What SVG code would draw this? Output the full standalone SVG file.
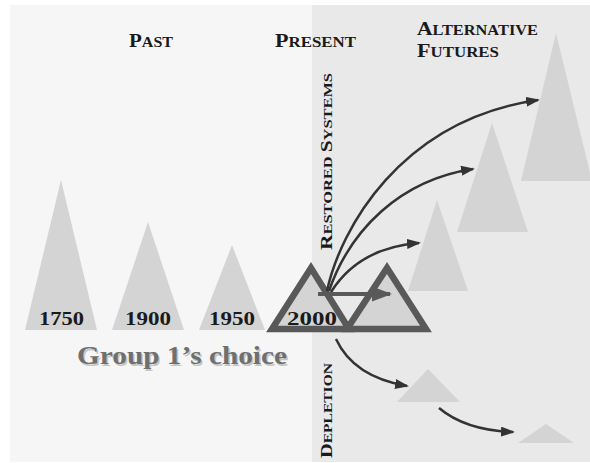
<svg xmlns="http://www.w3.org/2000/svg" width="590" height="463" viewBox="0 0 590 463">
  <style>
    .hd { font-family: "Liberation Serif", "DejaVu Serif", serif; font-weight: bold; fill: #1a1a1a; }
    .yr { font-family: "Liberation Serif", "DejaVu Serif", serif; font-weight: bold; fill: #1a1a1a; font-size: 18px; }
    .tri { fill: #d4d4d4; }
    .now { fill: #d4d4d4; stroke: #595959; stroke-width: 6.5; stroke-linejoin: miter; }
    .arc { fill: none; stroke: #333333; stroke-width: 2.5; }
  </style>
  <defs>
    <marker id="head" viewBox="0 0 14 10" refX="12" refY="5" markerUnits="userSpaceOnUse" markerWidth="14" markerHeight="10" orient="auto">
      <path d="M0,0 L14,5 L0,10 z" fill="#333333"/>
    </marker>
    <marker id="headBig" viewBox="0 0 20 15" refX="18" refY="7.5" markerUnits="userSpaceOnUse" markerWidth="20" markerHeight="15" orient="auto">
      <path d="M0,0 L20,7.5 L0,15 z" fill="#595959"/>
    </marker>
  </defs>

  <!-- backdrop panels -->
  <rect x="0" y="0" width="590" height="463" fill="#ffffff"/>
  <rect x="10" y="5" width="302" height="457" fill="#f6f6f6"/>
  <rect x="312" y="5" width="278" height="457" fill="#e9e9e9"/>

  <!-- column headings -->
  <g id="heading-past">
    <text class="hd" x="129" y="47" textLength="44" lengthAdjust="spacingAndGlyphs"><tspan font-size="19">P</tspan><tspan font-size="14.5">AST</tspan></text>
  </g>
  <g id="heading-present">
    <text class="hd" x="275" y="47" textLength="81" lengthAdjust="spacingAndGlyphs"><tspan font-size="19">P</tspan><tspan font-size="14.5">RESENT</tspan></text>
  </g>
  <g id="heading-futures">
    <text class="hd" x="417" y="35" textLength="121" lengthAdjust="spacingAndGlyphs"><tspan font-size="19">A</tspan><tspan font-size="14.5">LTERNATIVE</tspan></text>
    <text class="hd" x="417" y="57" textLength="82" lengthAdjust="spacingAndGlyphs"><tspan font-size="19">F</tspan><tspan font-size="14.5">UTURES</tspan></text>
  </g>

  <!-- scenario labels, vertical -->
  <g id="label-restored">
    <text class="hd" transform="translate(332,250) rotate(-90)" x="0" y="0" textLength="177" lengthAdjust="spacingAndGlyphs"><tspan font-size="17">R</tspan><tspan font-size="13">ESTORED </tspan><tspan font-size="17">S</tspan><tspan font-size="13">YSTEMS</tspan></text>
  </g>
  <g id="label-depletion">
    <text class="hd" transform="translate(332,458) rotate(-90)" x="0" y="0" textLength="95" lengthAdjust="spacingAndGlyphs"><tspan font-size="17">D</tspan><tspan font-size="13">EPLETION</tspan></text>
  </g>

  <!-- past states -->
  <g id="y1750">
    <polygon class="tri" points="61,180 25,330 97,330"/>
    <text class="yr" x="39" y="325" textLength="45" lengthAdjust="spacingAndGlyphs">1750</text>
  </g>
  <g id="y1900">
    <polygon class="tri" points="148,222 112,330 184,330"/>
    <text class="yr" x="125" y="325" textLength="46" lengthAdjust="spacingAndGlyphs">1900</text>
  </g>
  <g id="y1950">
    <polygon class="tri" points="232,245 199,330 265,330"/>
    <text class="yr" x="209" y="325" textLength="46" lengthAdjust="spacingAndGlyphs">1950</text>
  </g>

  <!-- present state and the chosen step -->
  <g id="y2000">
    <polygon class="now" points="272,329 311,268 349,329"/>
    <text class="yr" x="287" y="325" textLength="50" lengthAdjust="spacingAndGlyphs">2000</text>
  </g>
  <g id="choice">
    <polygon class="now" points="347,329 387,268 426,329"/>
  </g>

  <!-- future states -->
  <g id="future-high">
    <polygon class="tri" points="556,33 521,181 592,181"/>
  </g>
  <g id="future-mid">
    <polygon class="tri" points="492,123 457,232 528,232"/>
  </g>
  <g id="future-low">
    <polygon class="tri" points="437,200 408,291 468,291"/>
  </g>
  <g id="depleted-1">
    <polygon class="tri" points="428,369 397,402 460,402"/>
  </g>
  <g id="depleted-2">
    <polygon class="tri" points="546,424 518,443 574,443"/>
  </g>

  <!-- caption -->
  <g id="caption">
    <text x="78.5" y="365.5" font-family="'Liberation Serif', 'DejaVu Serif', serif" font-weight="bold" font-size="25" fill="#c4c4c4" textLength="210" lengthAdjust="spacingAndGlyphs">Group 1’s choice</text>
    <text x="77" y="364" font-family="'Liberation Serif', 'DejaVu Serif', serif" font-weight="bold" font-size="25" fill="#6f6f6f" textLength="210" lengthAdjust="spacingAndGlyphs">Group 1’s choice</text>
  </g>

  <!-- connectors -->
  <g id="connectors">
    <path class="arc" d="M327,291 C340,230 400,120 538,100" marker-end="url(#head)"/>
    <path class="arc" d="M329,291 C350,230 400,180 473,169" marker-end="url(#head)"/>
    <path class="arc" d="M331,292 C350,262 380,246 419,243" marker-end="url(#head)"/>
    <path class="arc" d="M336,339 C348,365 372,380 407,386" marker-end="url(#head)"/>
    <path class="arc" d="M439,408 C458,424 485,431 513,432" marker-end="url(#head)"/>
    <line x1="318" y1="294" x2="390" y2="294" stroke="#595959" stroke-width="4" marker-end="url(#headBig)"/>
  </g>
</svg>
